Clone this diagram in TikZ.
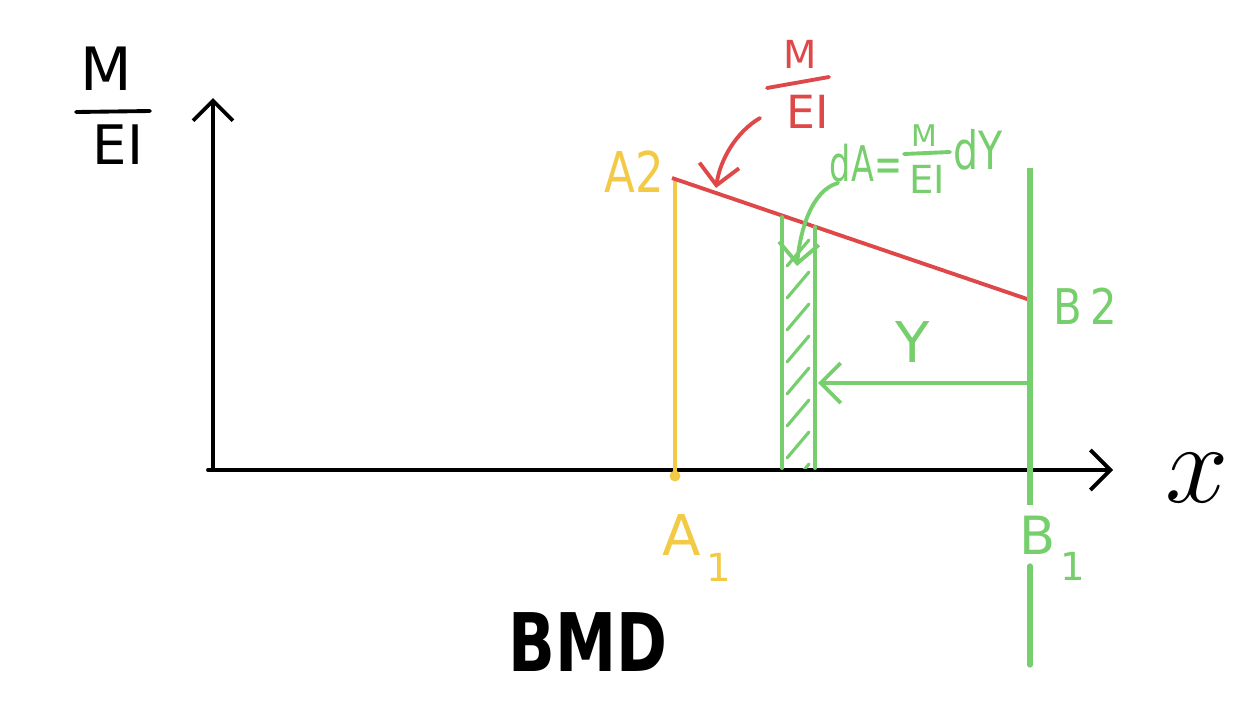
\documentclass[tikz,border=0pt]{standalone}
\usepackage{fontspec}
\usepackage{graphicx}
\setmainfont{DejaVu Sans}
\usetikzlibrary{arrows.meta}
\definecolor{pred}{RGB}{222,72,72}
\definecolor{pgreen}{RGB}{118,206,108}
\definecolor{pyellow}{RGB}{242,202,70}
\tikzset{
  ink/.style={line width=2.2pt, line cap=round, line join=round},
  openhead/.style={-{Straight Barb[length=4mm,width=8mm,line width=2.2pt]}},
  lbl/.style={inner sep=0pt, font=\fontsize{30}{34}\selectfont},
}
\newcommand{\fs}[1]{\fontsize{#1}{#1}\selectfont}
\begin{document}
\begin{tikzpicture}[x=0.02cm,y=-0.02cm]
\useasboundingbox (0,0) rectangle (1260,721);
% axes
\coordinate (O) at (213,470);
\coordinate (Ytop) at (213,98);
\coordinate (Xend) at (1113,470);
\coordinate (Xstart) at (208,470);
\draw[ink,black,openhead] (O) -- (Ytop);
\draw[ink,black,openhead] (Xstart) -- (Xend);
\node[lbl,font=\fs{24}] (xl) at (1197,478) {\scalebox{2.6}{$x$}};
% left M/EI
\node[lbl,font=\fs{34}] (lm) at (106,69) {M};
\coordinate (lb1) at (76,112);
\coordinate (lb2) at (150,111);
\draw[ink,black] (lb1) -- (lb2);
\node[lbl,font=\fs{31}] (lei) at (118,145) {EI};
% yellow A line
\coordinate (A2p) at (675,178);
\coordinate (A1p) at (675,476);
\draw[line width=2pt,pyellow] (A2p) -- (A1p);
\fill[pyellow] (A1p) circle (5.5);
\node[lbl,pyellow,font=\fs{32}] (A2) at (634,172) {\scalebox{0.8}[1]{A2}};
\node[lbl,pyellow,font=\fs{32}] (A1) at (697,548) {A\hspace{0.1em}\raisebox{-0.45em}{\fs{22}1}};
% red line
\coordinate (R1) at (672,178);
\coordinate (R2) at (1030,300);
\draw[line width=2.2pt,pred] (R1) -- (R2);
\node[lbl,pred,font=\fs{22}] (rm) at (800,54) {M};
\coordinate (rb1) at (767,88);
\coordinate (rb2) at (829,77);
\draw[ink,pred] (rb1) -- (rb2);
\node[lbl,pred,font=\fs{26}] (rei) at (808,112) {EI};
\coordinate (rarr) at (716,188);
\draw[ink,pred,openhead] (760,118) .. controls (736,132) and (720,160) .. (rarr);
% green B line (broken around the B1 label)
\coordinate (Btop) at (1030,168);
\coordinate (Bgap1) at (1030,505);
\coordinate (Bgap2) at (1030,566);
\coordinate (Bbot) at (1030,665);
\draw[line width=3pt,pgreen] (Btop) -- (Bgap1);
\draw[line width=3pt,pgreen,line cap=round] (Bgap2) -- (Bbot);
\node[lbl,pgreen,font=\fs{28}] (B2) at (1085,306) {\scalebox{0.85}[1]{B\hspace{0.2em}2}};
\node[lbl,pgreen,font=\fs{30}] (B1) at (1052,548) {B\hspace{0.1em}\raisebox{-0.5em}{\fs{22}1}};
% strip
\coordinate (S1t) at (782,217);
\coordinate (S1b) at (782,468);
\coordinate (S2t) at (815,227);
\coordinate (S2b) at (815,468);
\draw[ink,pgreen] (S1t) -- (S1b);
\draw[ink,pgreen] (S2t) -- (S2b);
\begin{scope}
\clip (782,232) rectangle (815,468);
\foreach \yy in {240,272,...,480}
  \draw[ink,pgreen,line width=1.8pt] (787,\yy+26) -- (809,\yy);
\end{scope}
% dA label
\node[lbl,pgreen,font=\fs{28}] (dA) at (866,163) {\scalebox{0.68}[1]{dA=}};
\node[lbl,pgreen,font=\fs{17}] (gm) at (924,136) {M};
\coordinate (gb1) at (904,154);
\coordinate (gb2) at (950,152);
\draw[ink,pgreen] (gb1) -- (gb2);
\node[lbl,pgreen,font=\fs{22}] (gei) at (927,179) {EI};
\node[lbl,pgreen,font=\fs{30}] (dY) at (978,150) {\scalebox{0.75}[1]{dY}};
\coordinate (garr) at (797,266);
\draw[ink,pgreen,openhead] (838,183) .. controls (812,190) and (800,230) .. (garr);
% Y arrow
\coordinate (Yr) at (1030,383);
\coordinate (Yl) at (818,383);
\draw[ink,pgreen,openhead] (Yr) -- (Yl);
\node[lbl,pgreen,font=\fs{32}] (Y) at (913,342) {Y};
% BMD
\node[lbl,font=\fs{46}\bfseries] (bmd) at (588,642) {\scalebox{0.76}[1]{BMD}};
\end{tikzpicture}
\end{document}
